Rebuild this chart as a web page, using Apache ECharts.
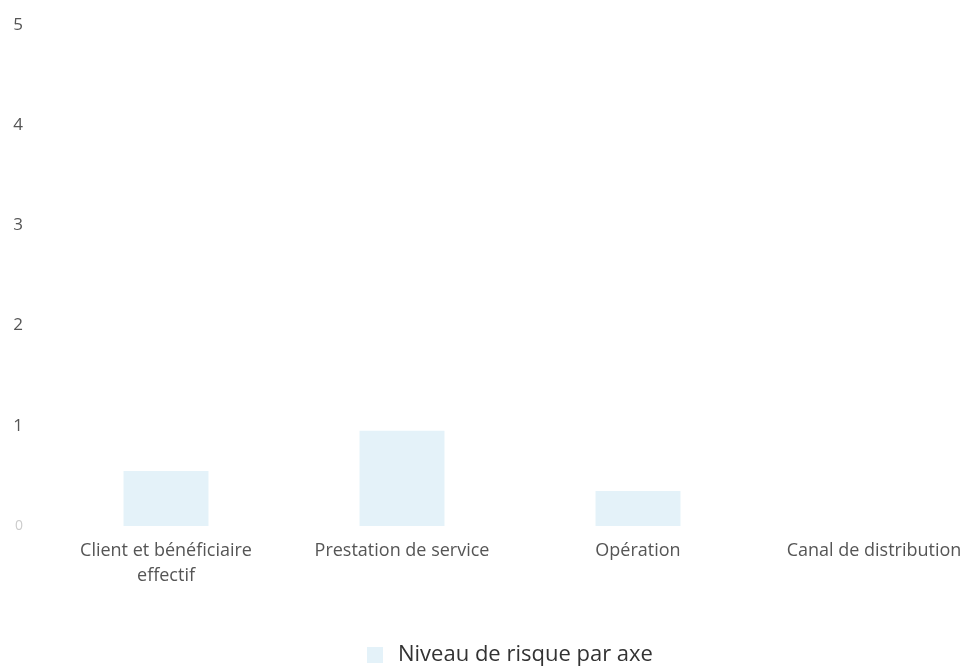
<!DOCTYPE html>
<html><head><meta charset="utf-8">
<script src="https://cdn.jsdelivr.net/npm/echarts@6/dist/echarts.min.js"></script>
<style>html,body{margin:0;padding:0;background:#fff;overflow:hidden;width:970px;height:671px}#c{width:992px;height:671px}</style>
</head><body><div id="c"></div>
<script>
const categories = ["Client et bénéficiaire\neffectif", "Prestation de service", "Opération", "Canal de distribution"];
const values = [0.55, 0.95, 0.35, 0];
const seriesName = "Niveau de risque par axe";
const yTicks = [0, 1, 2, 3, 4, 5];

const chart = echarts.init(document.getElementById('c'));
chart.setOption({
  animation: false,
  grid: { left: 48, top: 25, right: 0, bottom: 145, containLabel: false },
  legend: {
    data: [seriesName], bottom: 0, left: 362,
    itemWidth: 16, itemHeight: 16, icon: 'rect', itemGap: 10,
    textStyle: { fontFamily: 'Open Sans, sans-serif', fontSize: 22, color: '#333', padding: [0, 0, 0, 10] }
  },
  xAxis: {
    type: 'category', data: categories,
    axisLine: { show: false }, axisTick: { show: false },
    axisLabel: { fontFamily: 'Open Sans, sans-serif', fontSize: 18, color: '#555', margin: 12, lineHeight: 25, interval: 0 }
  },
  yAxis: {
    type: 'value', min: yTicks[0], max: yTicks[yTicks.length - 1], interval: 1,
    splitLine: { show: false }, axisLine: { show: false }, axisTick: { show: false },
    axisLabel: {
      fontFamily: 'Open Sans, sans-serif', fontSize: 17, color: '#555', margin: 25,
      formatter: v => v === 0 ? '{z|0}' : String(v),
      rich: { z: { color: '#ccc', fontSize: 14 } }
    }
  },
  series: [{
    name: seriesName, type: 'bar', data: values, barWidth: '36%',
    itemStyle: { color: '#e4f2f9' }
  }]
});
</script></body></html>
